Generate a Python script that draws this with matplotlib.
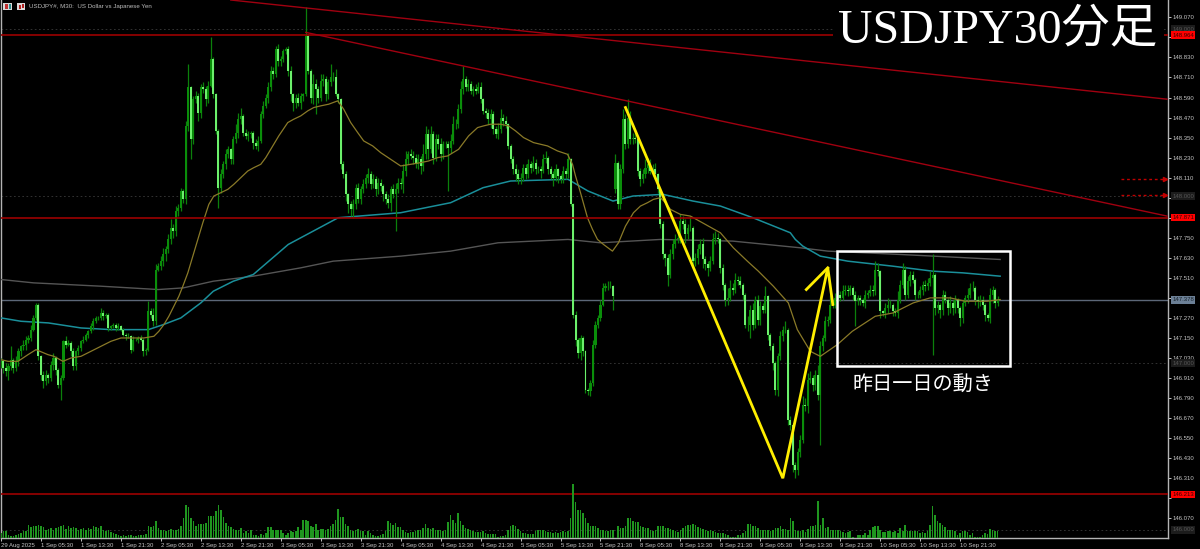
import numpy as np
import matplotlib
matplotlib.use('Agg')
import matplotlib.pyplot as plt
from matplotlib.patches import Rectangle
from matplotlib.transforms import blended_transform_factory

# closing price of each 30 minute bar, 16 bars per row
closes = [
    147.01,146.97,146.95,146.98,147.02,146.97,147.01,147.07,147.10,147.11,147.14,147.15,147.20,147.27,147.35,147.04,
    146.93,146.89,146.93,146.91,146.99,147.03,146.96,146.87,146.91,147.13,147.11,147.12,147.07,146.98,147.07,147.09,
    147.13,147.14,147.17,147.19,147.22,147.25,147.27,147.27,147.30,147.28,147.29,147.21,147.22,147.23,147.21,147.22,
    147.20,147.17,147.16,147.16,147.08,147.14,147.14,147.15,147.14,147.07,147.08,147.31,147.29,147.25,147.56,147.58,
    147.61,147.65,147.68,147.74,147.81,147.79,147.91,147.93,148.03,147.98,148.42,148.65,148.34,148.58,148.60,148.50,
    148.65,148.64,148.58,148.66,148.82,148.61,148.39,148.05,148.13,148.19,148.25,148.28,148.22,148.34,148.38,148.46,
    148.48,148.38,148.36,148.37,148.38,148.32,148.30,148.33,148.49,148.54,148.59,148.65,148.75,148.73,148.88,148.81,
    148.82,148.87,148.88,148.75,148.61,148.56,148.59,148.56,148.60,148.61,148.96,148.75,148.59,148.67,148.64,148.59,
    148.69,148.70,148.61,148.68,148.71,148.71,148.61,148.58,148.19,148.13,148.01,147.95,147.92,147.95,148.05,147.98,
    148.04,148.07,148.11,148.13,148.07,148.10,148.04,148.08,148.06,148.01,147.98,147.96,148.04,148.01,148.04,148.08,
    148.07,148.15,148.22,148.25,148.24,148.23,148.19,148.22,148.18,148.25,148.37,148.28,148.37,148.23,148.34,148.31,
    148.25,148.31,148.31,148.29,148.33,148.43,148.43,148.52,148.64,148.70,148.65,148.67,148.63,148.64,148.63,148.65,
    148.58,148.51,148.50,148.46,148.49,148.40,148.37,148.40,148.47,148.45,148.43,148.30,148.22,148.16,148.13,148.10,
    148.11,148.17,148.13,148.19,148.17,148.20,148.16,148.16,148.15,148.22,148.23,148.16,148.13,148.11,148.16,148.12,
    148.10,148.15,148.13,148.22,147.95,147.29,147.14,147.06,147.15,147.07,146.84,146.83,146.88,147.11,147.23,147.27,
    147.35,147.45,147.46,147.46,147.46,147.40,148.20,147.95,148.16,148.46,148.31,148.47,148.34,148.35,148.34,148.15,
    148.10,148.13,148.17,148.19,148.15,148.16,148.13,148.04,147.83,147.65,147.63,147.53,147.65,147.71,147.74,147.75,
    147.85,147.83,147.77,147.81,147.81,147.61,147.63,147.68,147.71,147.62,147.59,147.57,147.61,147.74,147.75,147.74,
    147.57,147.47,147.38,147.39,147.45,147.44,147.50,147.49,147.47,147.41,147.23,147.23,147.32,147.23,147.38,147.26,
    147.34,147.32,147.40,147.17,147.10,147.00,146.84,147.04,147.16,147.20,147.20,146.66,146.63,146.39,146.36,146.47,
    146.54,146.75,146.74,146.90,146.91,146.87,146.93,146.81,147.10,147.15,147.25,147.26,147.35,147.35,147.39,147.41,
    147.39,147.43,147.44,147.43,147.45,147.41,147.37,147.39,147.38,147.36,147.41,147.42,147.44,147.43,147.56,147.55,
    147.31,147.30,147.33,147.35,147.35,147.31,147.30,147.38,147.47,147.56,147.41,147.49,147.53,147.50,147.41,147.41,
    147.44,147.47,147.46,147.48,147.51,147.53,147.33,147.35,147.32,147.41,147.38,147.33,147.36,147.33,147.38,147.33,
    147.27,147.36,147.39,147.41,147.45,147.45,147.38,147.37,147.38,147.35,147.29,147.27,147.41,147.44,147.36,147.38,
]
first_open = 147.00
# weekend gap: bar index -> open
gap_opens = {246: 148.04}

# wick lengths in 0.01 yen
upper_wicks = [
    2,1,3,2,8,1,3,2,1,3,2,2,3,2,1,1,
    1,2,3,1,2,3,1,1,2,1,3,2,1,2,1,2,
    1,2,1,1,2,2,1,1,3,2,1,1,1,1,1,2,
    1,1,1,2,1,2,1,1,2,1,1,6,2,4,3,2,
    3,4,2,3,5,2,3,2,2,1,3,14,1,2,3,2,
    2,3,2,3,13,1,1,1,3,2,3,2,1,2,5,4,
    5,1,2,2,1,1,2,3,2,3,2,3,3,2,2,3,
    2,1,1,2,3,1,2,3,2,1,17,1,1,6,3,2,
    4,3,2,2,8,3,5,1,1,2,2,1,2,3,2,3,
    2,3,2,4,2,3,2,3,2,1,2,3,2,3,4,3,
    3,4,5,2,3,3,2,3,2,6,5,3,5,2,3,3,
    4,2,2,2,4,5,3,3,5,8,2,3,2,2,3,3,
    3,1,2,2,3,2,2,4,5,2,3,1,1,2,3,3,
    3,2,2,3,2,4,2,2,2,3,4,1,2,2,3,1,
    1,3,2,4,1,1,2,1,2,1,1,1,2,3,2,2,
    3,3,2,3,3,1,5,1,3,6,3,11,4,3,4,1,
    2,3,5,4,3,3,4,1,1,2,1,2,3,3,3,4,
    4,3,3,2,7,1,3,3,3,4,2,2,3,4,4,3,
    1,2,1,6,5,3,4,2,3,1,1,5,3,4,2,3,
    3,2,6,1,1,2,1,2,3,2,5,1,2,1,2,2,
    3,5,4,4,4,2,3,6,3,2,3,2,6,3,3,3,
    2,4,3,3,2,1,2,2,2,1,3,2,3,3,5,4,
    1,1,3,4,3,1,2,5,3,4,2,3,2,2,1,2,
    2,2,3,3,4,12,1,2,1,3,2,1,4,2,3,1,
    1,2,2,4,3,4,1,2,3,2,1,1,4,2,1,2,
]
lower_wicks = [
    3,3,3,5,2,3,2,3,3,2,3,2,2,1,1,2,
    3,4,2,3,2,3,3,2,9,1,2,1,3,2,2,2,
    2,1,1,2,1,2,1,1,1,2,1,2,1,1,2,1,
    1,1,2,1,2,1,1,2,1,3,2,1,2,3,2,1,
    2,3,4,2,3,4,3,3,2,2,3,3,12,3,2,5,
    3,2,4,2,1,2,2,12,3,2,3,2,3,3,2,3,
    3,2,2,3,2,4,2,3,1,2,1,3,2,3,2,3,
    3,2,2,3,4,5,3,2,4,3,1,2,3,4,15,3,
    2,3,4,3,2,2,1,2,3,2,4,5,4,5,3,2,
    3,2,2,3,3,2,4,3,3,4,3,3,5,2,22,2,
    3,5,3,3,2,4,2,3,5,3,3,6,2,4,2,3,
    4,3,2,26,3,2,3,2,2,3,2,2,2,3,2,1,
    2,2,3,3,5,3,2,3,2,3,2,2,2,3,4,3,
    3,2,3,2,3,2,3,2,4,1,2,3,3,5,2,4,
    2,2,3,2,1,2,4,3,4,3,2,2,3,2,2,2,
    2,1,2,2,1,8,2,3,3,2,3,2,3,3,2,3,
    4,2,2,3,2,3,3,2,2,3,5,7,2,3,2,2,
    3,3,5,3,2,3,3,4,3,5,3,5,2,2,3,2,
    3,3,4,3,2,3,2,2,2,3,2,4,8,3,2,3,
    3,2,2,3,2,4,3,4,2,3,2,3,3,4,5,3,
    3,2,3,4,2,4,3,3,30,3,2,3,2,2,2,2,
    2,1,2,3,2,3,15,2,3,2,3,2,2,3,2,3,
    4,2,3,3,2,3,2,3,2,2,3,2,3,2,3,2,
    2,3,3,2,2,46,4,3,5,3,2,4,3,4,3,3,
    5,3,2,3,2,2,3,4,3,3,4,2,3,5,3,2,
]
volumes = [
    5,7,7,3,2,2,3,4,5,7,7,13,11,12,12,13,
    12,11,8,9,10,8,10,11,12,13,9,12,10,11,10,8,
    9,10,8,10,9,12,11,10,12,8,7,8,6,5,4,3,
    2,3,2,3,3,2,2,3,3,3,4,12,11,12,17,10,
    8,8,7,8,9,8,8,9,12,20,33,31,20,17,12,14,
    14,14,15,22,22,22,27,33,28,21,15,12,11,9,8,8,
    10,5,7,5,8,3,3,2,4,3,5,11,11,8,8,8,
    8,5,3,5,7,6,7,11,8,18,18,17,12,11,14,8,
    9,9,8,9,12,14,18,29,21,21,14,12,8,7,8,9,
    7,7,3,7,5,3,2,2,3,4,7,17,15,13,15,11,
    11,8,6,5,6,6,7,8,8,10,14,10,9,10,8,8,
    8,7,8,16,23,18,15,25,17,13,10,9,8,7,6,6,
    6,7,5,4,4,4,4,1,2,2,3,8,12,13,12,9,
    7,5,5,4,4,4,7,8,8,8,7,6,6,5,6,5,
    6,7,6,7,20,54,36,28,28,25,20,15,12,12,12,10,
    8,8,7,7,8,8,0,12,10,10,12,20,20,17,16,16,
    12,11,10,10,8,7,8,12,12,12,10,10,9,8,7,6,
    8,10,12,13,13,14,13,11,10,9,8,7,8,7,6,5,
    5,5,4,3,1,1,1,3,3,5,7,14,14,12,12,10,
    8,8,8,8,7,8,10,10,12,9,9,8,20,17,8,7,
    7,8,6,9,12,12,13,37,13,20,10,11,8,8,8,8,
    7,6,5,6,7,1,0,3,3,3,5,3,8,11,12,12,
    8,6,6,7,7,6,7,5,10,7,13,7,7,7,7,7,
    5,6,5,7,13,32,23,17,15,13,11,8,8,8,7,3,
    5,7,7,6,3,5,1,1,1,3,5,4,9,8,7,7,
]

# moving averages as (bar, price)
ma_fast_bars = [0,2.8,6.8,10.8,14,18.8,21.2,24.8,28,32,36,40,44,48,52.8,57.2,61.2,63.2,65.2,67.2,69.2,71.2,72.8,74.8,76.8,78.8,80.8,83.2,85.2,88,90.8,93.2,96,98.8,101.2,104,106,108,111.2,114.8,117.2,120,122.8,125.2,128,131.2,134.8,137.2,140,142.8,145.2,148.8,152,156,160,164,168,171.2,174.8,178.8,183.2,187.2,190.8,193.2,196,200,203.2,206,209.2,213.2,218.8,222.8,226.8,228.8,230,232,234.8,236.8,238.8,241.2,244.8,247.2,250,253.2,256,258.8,261.2,264,266,268,272,276,280.8,288,293.2,298.8,303.2,309.2,315.2,318.8,324,328,334.8,340.8,350,357.2,365.2,372,380,386,394.8,400]
ma_fast = [147.02,147.01,147.01,147.05,147.08,147.05,147.04,147.01,147.03,147.04,147.07,147.10,147.13,147.15,147.15,147.15,147.16,147.19,147.23,147.28,147.34,147.40,147.46,147.54,147.64,147.74,147.84,147.95,148.00,148.02,148.04,148.07,148.11,148.15,148.17,148.19,148.23,148.28,148.36,148.44,148.46,148.48,148.51,148.53,148.54,148.55,148.57,148.52,148.44,148.38,148.33,148.30,148.26,148.22,148.18,148.19,148.20,148.21,148.23,148.24,148.28,148.36,148.41,148.42,148.43,148.43,148.42,148.39,148.35,148.32,148.30,148.27,148.25,148.19,148.12,148.02,147.87,147.80,147.74,147.71,147.67,147.72,147.82,147.90,147.94,147.96,147.98,147.99,147.96,147.92,147.89,147.88,147.84,147.78,147.69,147.61,147.55,147.46,147.36,147.20,147.07,147.04,147.11,147.19,147.28,147.30,147.36,147.39,147.39,147.37,147.37,147.38]
ma_mid_bars = [0,8,19,32,44,59,65,72,80,85,93,101,115,135,160,180,193,204,227,235,245,253,265,277,288,301,316,318,321,328,339,357,373,385,400]
ma_mid = [147.27,147.25,147.24,147.21,147.20,147.20,147.23,147.27,147.36,147.43,147.49,147.53,147.71,147.87,147.90,147.96,148.05,148.09,148.10,148.03,147.97,148.00,148.01,147.97,147.94,147.87,147.78,147.74,147.70,147.64,147.61,147.58,147.55,147.54,147.52]
ma_slow_bars = [0,13,40,63,73,85,101,120,133,160,180,199,227,240,264,293,320,331,360,400]
ma_slow = [147.50,147.48,147.46,147.44,147.45,147.49,147.52,147.57,147.61,147.64,147.67,147.72,147.74,147.72,147.74,147.73,147.69,147.67,147.65,147.62]

# support and resistance
level_prices = [148.964, 147.871, 146.213]
level_labels = ['148.964', '147.871', '146.213']
round_levels = [149.0, 148.0, 147.0, 146.0]
round_labels = ['149.000', '148.000', '147.000', '146.000']
last_price = 147.378
last_label = '147.378'
alert_prices = [148.102, 148.006]
trend_bars = [[92, 466.8], [122, 466.8]]
trend_prices = [[149.174, 148.58], [148.98, 147.88]]

# hand drawn zigzag
zigzag_bars = [250, 313, 331, 333]
zigzag_prices = [148.53, 146.31, 147.57, 147.35]
zigzag_head_bars = [322.4, 331]
zigzag_head_prices = [147.44, 147.57]

box_bars = [334.8, 404]
box_prices = [147.67, 146.98]

y_ticks = [149.07,148.95,148.83,148.71,148.59,148.47,148.35,148.23,148.11,147.99,147.87,147.75,147.63,147.51,147.39,147.27,147.15,147.03,146.91,146.79,146.67,146.55,146.43,146.31,146.19,146.07]
# these tick labels sit under a price tag
covered_ticks = [148.95, 147.99, 147.87, 147.39, 146.19]
x_tick_labels = ['29 Aug 2025','1 Sep 05:30','1 Sep 13:30','1 Sep 21:30','2 Sep 05:30','2 Sep 13:30','2 Sep 21:30',
                 '3 Sep 05:30','3 Sep 13:30','3 Sep 21:30','4 Sep 05:30','4 Sep 13:30','4 Sep 21:30',
                 '5 Sep 05:30','5 Sep 13:30','5 Sep 21:30','8 Sep 05:30','8 Sep 13:30','8 Sep 21:30',
                 '9 Sep 05:30','9 Sep 13:30','9 Sep 21:30','10 Sep 05:30','10 Sep 13:30','10 Sep 21:30']

W, H = 1200, 549
fig = plt.figure(figsize=(W / 100, H / 100), dpi=100, facecolor='black')
ax = fig.add_axes([1 / W, 1 - 538 / H, 1167 / W, 538 / H], facecolor='black')
ax.set_xlim(0.4, 467.2)
ax.set_ylim(145.952, 149.174)

closes = np.array(closes)
bars = np.arange(len(closes))
opens = np.r_[first_open, closes[:-1]]
for i in gap_opens:
    opens[i] = gap_opens[i]
highs = np.maximum(opens, closes) + np.array(upper_wicks) / 100
lows = np.minimum(opens, closes) - np.array(lower_wicks) / 100
is_up = closes >= opens

# volume sits on its own scale at the bottom
vol_ax = ax.twinx()
vol_ax.set_ylim(0, 538)
vol_ax.axis('off')
vol_ax.bar(bars, volumes, width=0.62, color='#1f961f', linewidth=0, zorder=2)

for lv in round_levels:
    ax.axhline(lv, color='#3a3a3a', lw=0.6, ls=(0, (2, 3)), zorder=1)
ax.axhline(last_price, color='#5c6778', lw=1.0, zorder=1)

ax.plot(ma_slow_bars, ma_slow, color='#555555', lw=1.0, zorder=3)
ax.plot(ma_mid_bars, ma_mid, color='#1a8f9a', lw=1.1, zorder=3)

ax.vlines(bars, lows, highs, color='#0b800b', lw=0.9, zorder=4)
ax.bar(bars[is_up], closes[is_up] - opens[is_up], bottom=opens[is_up], width=0.85, color='#0a8e0a', linewidth=0, zorder=5)
ax.bar(bars[~is_up], closes[~is_up] - opens[~is_up], bottom=opens[~is_up], width=0.8, color='#6cf06c', linewidth=0, zorder=5)

ax.plot(ma_fast_bars, ma_fast, color='#8a7a28', lw=0.9, zorder=6)

for lv in level_prices:
    ax.axhline(lv, color='#9c0000', lw=1.2, zorder=7)
for b, p in zip(trend_bars, trend_prices):
    ax.plot(b, p, color='#a00010', lw=1.0, zorder=7)
for p in alert_prices:
    ax.plot([448.4, 465.5], [p, p], color='#c00000', lw=1.0, ls=(0, (2, 2)), zorder=7)
    ax.plot([466], [p], marker='>', ms=3, color='#c00000', zorder=7)

ax.plot(zigzag_bars, zigzag_prices, color='#ffee00', lw=2.0, zorder=8, solid_joinstyle='miter')
ax.plot(zigzag_head_bars, zigzag_head_prices, color='#ffee00', lw=2.0, zorder=8)

ax.add_patch(Rectangle((box_bars[0], box_prices[1]), box_bars[1] - box_bars[0], box_prices[0] - box_prices[1],
                       fill=False, ec='white', lw=1.8, zorder=9))
ax.text(369, 146.87, '昨日一日の動き', color='white', fontsize=14.5, ha='center', va='center',
        family=['Noto Sans CJK JP', 'DejaVu Sans'], zorder=9)
ax.text(998 / 2.5, 148.99, 'USDJPY30分足', color='white', fontsize=34.5, ha='center', va='center',
        family=['Liberation Serif', 'Noto Sans CJK JP'], zorder=10,
        bbox=dict(facecolor='black', edgecolor='none', pad=4))

# axes
ax.spines['top'].set_visible(False)
for s in ['left', 'right', 'bottom']:
    ax.spines[s].set_color('#b4b4b4')
    ax.spines[s].set_linewidth(1.0)
ax.yaxis.tick_right()
ax.set_yticks(y_ticks)
ax.set_yticklabels(['' if v in covered_ticks else f'{v:.3f}' for v in y_ticks])
ax.set_xticks(np.arange(len(x_tick_labels)) * 16)
ax.set_xticklabels(x_tick_labels, ha='left')
ax.tick_params(axis='both', colors='#c4c4c4', labelsize=4.3, length=2.5, width=0.7, pad=1.0)
for lab in ax.get_yticklabels() + ax.get_xticklabels():
    lab.set_family('Liberation Sans')
vol_ax.set_zorder(ax.get_zorder() + 1)
vol_ax.patch.set_visible(False)

# price tags in the right margin
trans = blended_transform_factory(ax.transAxes, ax.transData)
for lv, txt in zip(round_levels, round_labels):
    ax.text(1.0035, lv, txt, transform=trans, fontsize=4.3, color='#555555', va='center', family='Liberation Sans',
            clip_on=False, zorder=20, bbox=dict(facecolor='#1c1c1c', edgecolor='none', pad=1.0))
for lv, txt in zip(level_prices, level_labels):
    ax.text(1.0035, lv, txt, transform=trans, fontsize=4.3, color='#3a0000', va='center', family='Liberation Sans',
            clip_on=False, zorder=20, bbox=dict(facecolor='#ff0000', edgecolor='none', pad=1.0))
ax.text(1.0035, last_price, last_label, transform=trans, fontsize=4.3, color='#16222c', va='center', family='Liberation Sans',
        clip_on=False, zorder=20, bbox=dict(facecolor='#6c8096', edgecolor='none', pad=1.0))

# header
fig.add_artist(Rectangle((3 / W, 1 - 10 / H), 9 / W, 7 / H, transform=fig.transFigure, fc='#d9d9d9', ec='none'))
fig.add_artist(Rectangle((5 / W, 1 - 9 / H), 2.5 / W, 5 / H, transform=fig.transFigure, fc='#c03030', ec='none'))
fig.add_artist(Rectangle((8.5 / W, 1 - 9 / H), 2.5 / W, 5 / H, transform=fig.transFigure, fc='#2a8a8a', ec='none'))
fig.add_artist(Rectangle((17 / W, 1 - 10 / H), 8 / W, 7 / H, transform=fig.transFigure, fc='#d9d9d9', ec='none'))
fig.add_artist(Rectangle((18.5 / W, 1 - 9 / H), 2 / W, 4 / H, transform=fig.transFigure, fc='#b02020', ec='none'))
fig.add_artist(Rectangle((21.5 / W, 1 - 8 / H), 2 / W, 4 / H, transform=fig.transFigure, fc='#b02020', ec='none'))
fig.text(29 / W, 1 - 6.5 / H, 'USDJPY#, M30:  US Dollar vs Japanese Yen', color='#bdbdbd', fontsize=4.4,
         va='center', family='Liberation Sans')

fig.savefig('out.png', dpi=100, facecolor='black')
